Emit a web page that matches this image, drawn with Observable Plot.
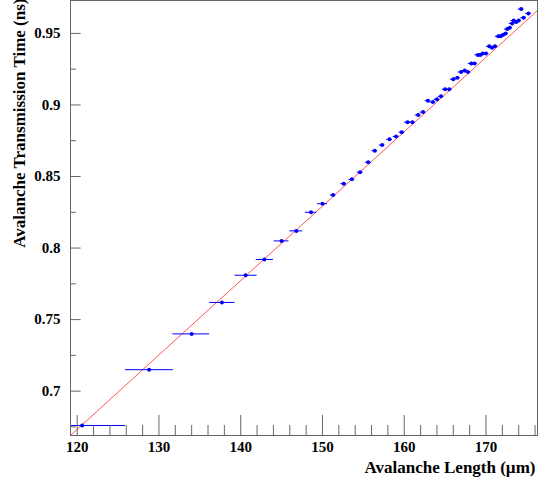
<!DOCTYPE html>
<html><head><meta charset="utf-8">
<script src="https://cdn.jsdelivr.net/npm/d3@7"></script>
<script src="https://cdn.jsdelivr.net/npm/@observablehq/plot@0.6"></script>
<style>body{margin:0;background:#fff}</style>
</head><body><div id="chart"></div>
<script>
// points with wide x error bars
const wideX = [120.6, 128.8, 134.0, 137.7, 140.6, 142.9, 145.0, 146.8, 148.6, 150.0]
const wideY = [0.676, 0.715, 0.740, 0.762, 0.781, 0.792, 0.805, 0.812, 0.825, 0.831]
const wideLo = [119.2, 125.9, 131.7, 136.2, 139.3, 141.9, 144.1, 146.0, 147.9, 149.4]
const wideHi = [125.9, 131.75, 136.2, 139.3, 142.0, 144.0, 145.9, 147.6, 149.3, 150.6]
// dense points
const denseX = [151.3,152.6,153.6,154.6,155.6,156.4,157.3,158.2,159.0,159.7,160.4,161.0,161.7,162.3,162.9,163.5,164.0,164.5,165.0,165.5,166.0,166.5,166.95,167.4,167.8,168.2,168.6,169.0,169.3,169.6,170.0,170.4,170.75,171.1,171.5,171.8,172.1,172.4,172.6,172.9,173.2,173.4,173.7,174.0,174.3,174.6,175.2]
const denseY = [0.837,0.845,0.848,0.853,0.860,0.868,0.872,0.876,0.878,0.881,0.888,0.888,0.893,0.895,0.903,0.902,0.904,0.906,0.911,0.911,0.918,0.919,0.923,0.924,0.923,0.929,0.929,0.935,0.935,0.936,0.936,0.941,0.940,0.941,0.948,0.948,0.949,0.950,0.953,0.954,0.957,0.959,0.958,0.959,0.967,0.961,0.964]
const denseErr = 0.35
// linear fit
const fitSlope = 0.0052, fitIntercept = 0.0493
const xDomain = [119.18, 176.3], yDomain = [0.669, 0.973]
const xMajor = [120, 130, 140, 150, 160, 170]
const yMajor = [0.7, 0.75, 0.8, 0.85, 0.9, 0.95]

const wide = wideX.map((x, i) => ({x, y: wideY[i], lo: wideLo[i], hi: wideHi[i]}))
const dense = denseX.map((x, i) => ({x, y: denseY[i], lo: x - denseErr, hi: x + denseErr}))
const pts = wide.concat(dense)
const fit = xDomain.map(x => ({x, y: fitIntercept + fitSlope * x}))
const xMinor = d3.range(120, 177, 2).filter(v => v % 10 !== 0)
const yMinor = d3.range(0.675, 0.973, 0.05)

const ytl = 0.007, xtl = 1.2
const chart = Plot.plot({
  width: 539, height: 480,
  marginLeft: 70, marginRight: 2, marginTop: 0, marginBottom: 45,
  style: {fontFamily: "'Liberation Serif', 'Times New Roman', serif", fontWeight: "bold", fontSize: "15px"},
  x: {domain: xDomain, ticks: xMajor, tickSize: 0, tickPadding: 6, tickFormat: d => d, label: null},
  y: {domain: yDomain, ticks: yMajor, tickSize: 0, tickPadding: 10, tickFormat: d => String(+d.toFixed(3)), label: null},
  marks: [
    Plot.line(fit, {x: "x", y: "y", stroke: "#ff5555", strokeWidth: 1, clip: true}),
    Plot.ruleY(pts, {y: "y", x1: "lo", x2: "hi", stroke: "#0000ff", strokeWidth: 1, clip: true}),
    Plot.dot(pts, {x: "x", y: "y", r: 2, fill: "#0000ff"}),
    Plot.ruleX(xMajor, {x: d => d, y1: yDomain[0], y2: yDomain[0] + 2 * ytl, stroke: "#666"}),
    Plot.ruleX(xMinor, {x: d => d, y1: yDomain[0], y2: yDomain[0] + ytl, stroke: "#666"}),
    Plot.ruleY(yMajor, {y: d => d, x1: xDomain[0], x2: xDomain[0] + xtl + 0.1, stroke: "#666"}),
    Plot.ruleY(yMinor, {y: d => d, x1: xDomain[0], x2: xDomain[0] + xtl * 0.6, stroke: "#666"}),
    Plot.frame({stroke: "#666"}),
    Plot.text(["Avalanche Length (\u00b5m)"], {frameAnchor: "bottom-right", dy: 37, dx: -2, fontSize: 17, textAnchor: "end"}),
    Plot.text(["Avalanche Transmission Time (ns)"], {frameAnchor: "top-left", dx: -58, dy: -2, rotate: -90, fontSize: 17, textAnchor: "end"})
  ]
})
document.getElementById("chart").append(chart)
</script></body></html>
